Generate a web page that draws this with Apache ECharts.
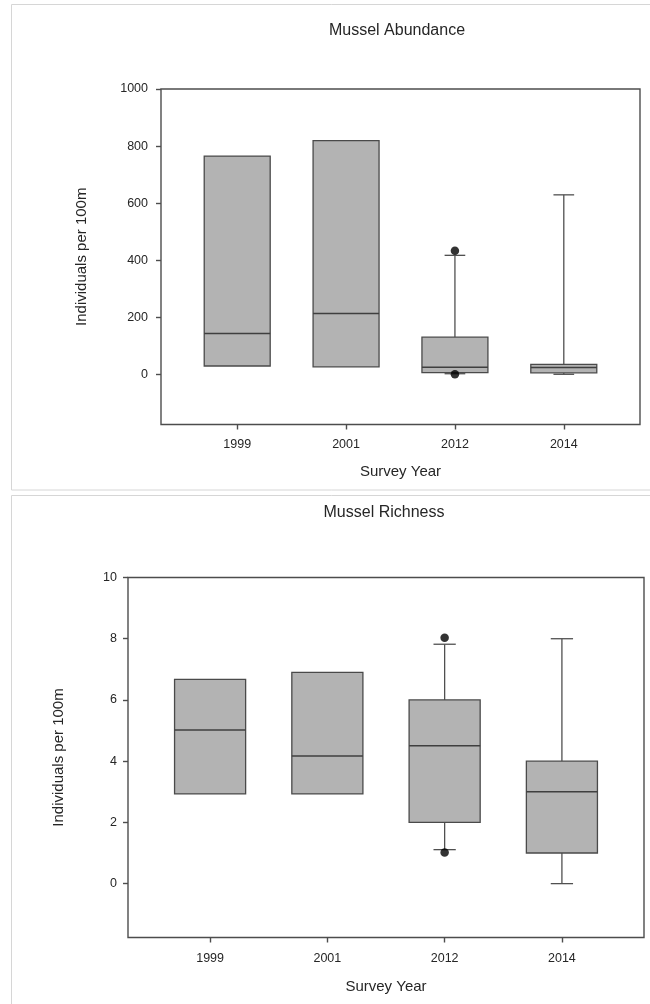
<!DOCTYPE html>
<html>
<head>
<meta charset="utf-8">
<script src="https://cdn.jsdelivr.net/npm/echarts@6/dist/echarts.min.js"></script>
<style>
html,body{margin:0;padding:0;background:#fff;}
#chart{width:650px;height:1004px;}
</style>
</head>
<body>
<div id="chart"></div>
<script>
// ---- data ----
const years = ['1999', '2001', '2012', '2014'];

const abundanceMin    = [29, 26, 2, 0];
const abundanceQ1     = [29, 26, 6, 5];
const abundanceMedian = [143, 213, 25, 24];
const abundanceQ3     = [765, 819, 130, 35];
const abundanceMax    = [765, 819, 417, 629];
const abundanceOutliers = [[2, 433], [2, 0]];
const abundanceTicks  = [0, 200, 400, 600, 800, 1000];

const richnessMin    = [2.93, 2.93, 1.11, 0];
const richnessQ1     = [2.93, 2.93, 2.0, 1.0];
const richnessMedian = [5.02, 4.17, 4.5, 3.0];
const richnessQ3     = [6.67, 6.9, 6.0, 4.0];
const richnessMax    = [6.67, 6.9, 7.82, 8.0];
const richnessOutliers = [[2, 8.03], [2, 1.02]];
const richnessTicks  = [0, 2, 4, 6, 8, 10];

// ---- helpers ----
const FONT = '"Liberation Sans", Arial, sans-serif';
const TXT = '#262626';
const LINE = '#4d4d4d';

function boxData(mn, q1, md, q3, mx) {
  return years.map((_, i) => [i, mn[i], q1[i], md[i], q3[i], mx[i]]);
}

function renderBox(params, api) {
  const x = api.value(0);
  const mn = api.value(1), q1 = api.value(2), md = api.value(3), q3 = api.value(4), mx = api.value(5);
  const halfW = api.size([0.606, 0])[0] / 2;
  const capHalf = api.size([0.19, 0])[0] / 2;
  const pMin = api.coord([x, mn]);
  const pQ1 = api.coord([x, q1]);
  const pMd = api.coord([x, md]);
  const pQ3 = api.coord([x, q3]);
  const pMax = api.coord([x, mx]);
  const cx = pMd[0];
  const lineStyle = { stroke: '#505050', lineWidth: 1.3, fill: null };
  const children = [];
  if (mx > q3) {
    children.push({ type: 'line', shape: { x1: cx, y1: pQ3[1], x2: cx, y2: pMax[1] }, style: lineStyle });
    children.push({ type: 'line', shape: { x1: cx - capHalf, y1: pMax[1], x2: cx + capHalf, y2: pMax[1] }, style: lineStyle });
  }
  if (mn < q1) {
    children.push({ type: 'line', shape: { x1: cx, y1: pQ1[1], x2: cx, y2: pMin[1] }, style: lineStyle });
    children.push({ type: 'line', shape: { x1: cx - capHalf, y1: pMin[1], x2: cx + capHalf, y2: pMin[1] }, style: lineStyle });
  }
  children.push({
    type: 'rect',
    shape: { x: cx - halfW, y: pQ3[1], width: halfW * 2, height: pQ1[1] - pQ3[1] },
    style: { fill: '#b3b3b3', stroke: '#4a4a4a', lineWidth: 1.3 }
  });
  children.push({ type: 'line', shape: { x1: cx - halfW, y1: pMd[1], x2: cx + halfW, y2: pMd[1] }, style: { stroke: '#3f3f3f', lineWidth: 1.5 } });
  return { type: 'group', children: children };
}

function xAxisCfg(gridIndex, margin, gap) {
  return {
    type: 'value', gridIndex: gridIndex, min: -0.7, max: 3.7, position: 'bottom',
    name: 'Survey Year', nameLocation: 'middle', nameGap: gap,
    nameTextStyle: { fontFamily: FONT, fontSize: 15, color: TXT },
    axisLine: { show: false, onZero: false },
    axisTick: { show: true, length: 5, customValues: [0, 1, 2, 3], lineStyle: { color: LINE, width: 1.4 } },
    axisLabel: { customValues: [0, 1, 2, 3], formatter: v => years[Math.round(v)], margin: margin,
      fontFamily: FONT, fontSize: 12.5, color: TXT },
    splitLine: { show: false }
  };
}

function yAxisCfg(gridIndex, mn, mx, ticks, margin, gap) {
  return {
    type: 'value', gridIndex: gridIndex, min: mn, max: mx, position: 'left',
    name: 'Individuals per 100m', nameLocation: 'middle', nameGap: gap, nameRotate: 90,
    nameTextStyle: { fontFamily: FONT, fontSize: 15, color: TXT },
    axisLine: { show: false, onZero: false },
    axisTick: { show: true, length: 5, customValues: ticks, lineStyle: { color: LINE, width: 1.4 } },
    axisLabel: { customValues: ticks, formatter: v => String(v), margin: margin, fontFamily: FONT, fontSize: 12.5, color: TXT },
    splitLine: { show: false }
  };
}

const chart = echarts.init(document.getElementById('chart'), null, { renderer: 'canvas' });

chart.setOption({
  backgroundColor: '#ffffff',
  animation: false,
  graphic: [
    { type: 'rect', z: -10, shape: { x: 11.5, y: 4.5, width: 700, height: 485.5 },
      style: { fill: null, stroke: '#d6d6d6', lineWidth: 1 } },
    { type: 'rect', z: -10, shape: { x: 11.5, y: 495.5, width: 700, height: 600 },
      style: { fill: null, stroke: '#d6d6d6', lineWidth: 1 } },
    { type: 'text', style: { text: 'Mussel Abundance', x: 397, y: 31, textAlign: 'center', textVerticalAlign: 'middle',
      font: '16px ' + FONT, fill: TXT } },
    { type: 'text', style: { text: 'Mussel Richness', x: 384, y: 513, textAlign: 'center', textVerticalAlign: 'middle',
      font: '16px ' + FONT, fill: TXT } }
  ],
  grid: [
    { left: 161, top: 89, width: 479, height: 335.5, show: true, borderColor: LINE, borderWidth: 1.4, backgroundColor: 'transparent' },
    { left: 128, top: 577.5, width: 516, height: 360, show: true, borderColor: LINE, borderWidth: 1.4, backgroundColor: 'transparent' }
  ],
  xAxis: [xAxisCfg(0, 14, 40), xAxisCfg(1, 15, 42)],
  yAxis: [
    yAxisCfg(0, -176, 1000, abundanceTicks, 13, 72),
    yAxisCfg(1, -1.76, 10, richnessTicks, 11, 62)
  ],
  series: [
    { type: 'custom', xAxisIndex: 0, yAxisIndex: 0, renderItem: renderBox,
      encode: { x: 0, y: [1, 2, 3, 4, 5] },
      data: boxData(abundanceMin, abundanceQ1, abundanceMedian, abundanceQ3, abundanceMax) },
    { type: 'scatter', xAxisIndex: 0, yAxisIndex: 0, symbolSize: 8.5, itemStyle: { color: '#000' },
      data: abundanceOutliers },
    { type: 'custom', xAxisIndex: 1, yAxisIndex: 1, renderItem: renderBox,
      encode: { x: 0, y: [1, 2, 3, 4, 5] },
      data: boxData(richnessMin, richnessQ1, richnessMedian, richnessQ3, richnessMax) },
    { type: 'scatter', xAxisIndex: 1, yAxisIndex: 1, symbolSize: 8.5, itemStyle: { color: '#000' },
      data: richnessOutliers }
  ]
});
</script>
</body>
</html>
